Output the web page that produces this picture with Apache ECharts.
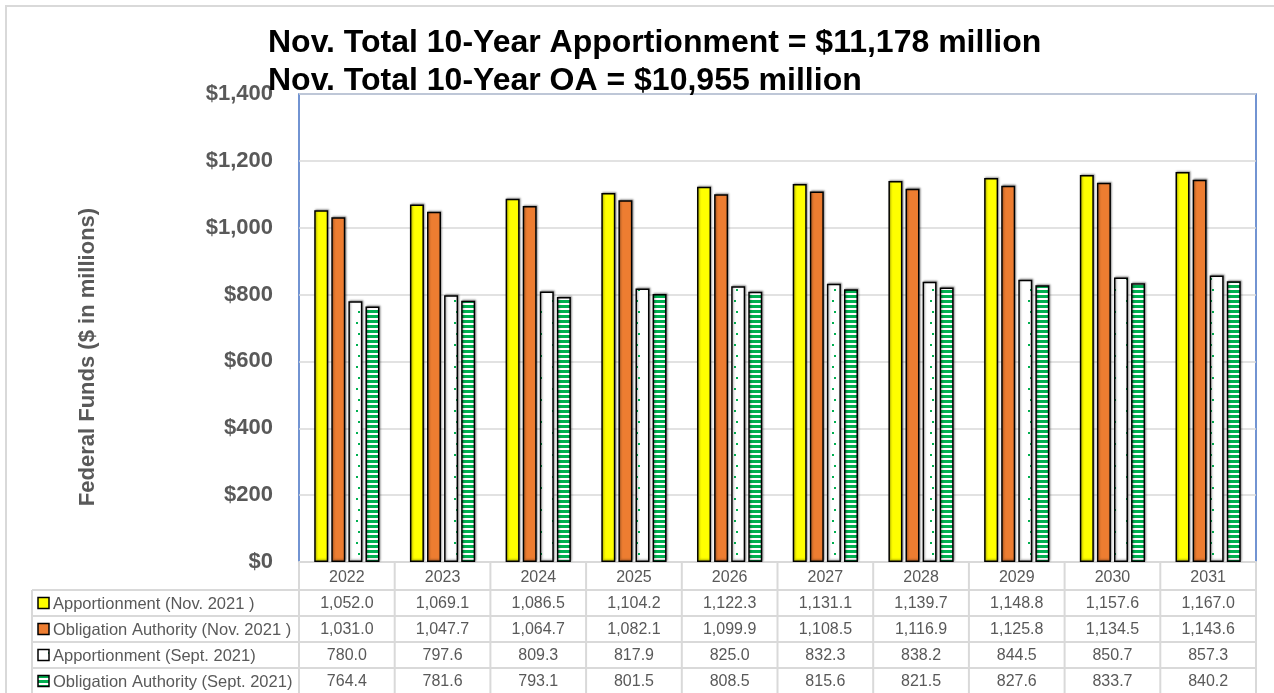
<!DOCTYPE html>
<html>
<head>
<meta charset="utf-8">
<script src="https://cdn.jsdelivr.net/npm/echarts@6/dist/echarts.min.js"></script>
<style>
  html, body { margin: 0; padding: 0; background: #fff; }
  #chart_box { width: 1274px; height: 693px; }
</style>
</head>
<body>
<div id="chart_box"></div>
<script>
// data
var years = ['2022', '2023', '2024', '2025', '2026', '2027', '2028', '2029', '2030', '2031'];
var seriesNames = [
    'Apportionment (Nov. 2021 )',
    'Obligation Authority (Nov. 2021 )',
    'Apportionment (Sept. 2021)',
    'Obligation Authority (Sept. 2021)'
];
var apportNov = [1052.0, 1069.1, 1086.5, 1104.2, 1122.3, 1131.1, 1139.7, 1148.8, 1157.6, 1167.0];
var oaNov = [1031.0, 1047.7, 1064.7, 1082.1, 1099.9, 1108.5, 1116.9, 1125.8, 1134.5, 1143.6];
var apportSept = [780.0, 797.6, 809.3, 817.9, 825.0, 832.3, 838.2, 844.5, 850.7, 857.3];
var oaSept = [764.4, 781.6, 793.1, 801.5, 808.5, 815.6, 821.5, 827.6, 833.7, 840.2];
var titleLines = [
    'Nov. Total 10-Year Apportionment = $11,178 million',
    'Nov. Total 10-Year OA = $10,955 million'
];
var yName = 'Federal Funds ($ in millions)';

var GREEN = '#00B050';
var GRAY_TXT = '#595959';
var LINE = '#d9d9d9';
var FONT = 'Liberation Sans';

// fill patterns (dots / horizontal stripes)
function dotPattern() {
    var c = document.createElement('canvas');
    c.width = 14; c.height = 22;
    var ctx = c.getContext('2d');
    ctx.fillStyle = '#fff';
    ctx.fillRect(0, 0, 14, 22);
    ctx.fillStyle = GREEN;
    ctx.fillRect(8, 3, 2, 2);
    ctx.fillRect(6, 14, 2, 2);
    return c;
}
function stripePattern() {
    var c = document.createElement('canvas');
    c.width = 4; c.height = 5;
    var ctx = c.getContext('2d');
    ctx.fillStyle = '#fff';
    ctx.fillRect(0, 0, 4, 5);
    ctx.fillStyle = GREEN;
    ctx.fillRect(0, 0, 4, 3);
    return c;
}
var dots = dotPattern();
var stripes = stripePattern();

var fills = [
    '#FFFF00',
    '#ED7D31',
    { image: dots, repeat: 'repeat' },
    { image: stripes, repeat: 'repeat' }
];
var rows = [apportNov, oaNov, apportSept, oaSept];

var myChart = echarts.init(document.getElementById('chart_box'));

function barSeries(i) {
    return {
        name: seriesNames[i],
        type: 'bar',
        data: rows[i],
        barWidth: 14,
        barGap: '22%',
        itemStyle: {
            color: fills[i],
            borderColor: '#000',
            borderWidth: 1.5,
            shadowColor: 'rgba(0,0,0,0.35)',
            shadowBlur: 2,
            shadowOffsetX: 1,
            shadowOffsetY: -1
        }
    };
}

var option = {
    animation: false,
    title: {
        text: titleLines.join('\n'),
        left: 263,
        top: 19,
        textStyle: {
            fontFamily: FONT,
            fontSize: 32,
            fontWeight: 'bold',
            color: '#000',
            lineHeight: 38
        }
    },
    grid: {
        left: 299,
        right: 18,
        top: 94,
        bottom: 131,
        show: true,
        borderColor: '#4472C4',
        borderWidth: 1.5
    },
    xAxis: {
        type: 'category',
        data: years,
        axisLine: { lineStyle: { color: LINE, width: 2 } },
        axisTick: { show: false },
        axisLabel: {
            color: GRAY_TXT,
            fontFamily: FONT,
            fontSize: 16,
            margin: 8
        }
    },
    yAxis: {
        type: 'value',
        min: 0,
        max: 1400,
        interval: 200,
        axisLine: { show: false },
        axisTick: { show: false },
        splitLine: { lineStyle: { color: LINE, width: 1.5 } },
        axisLabel: {
            color: GRAY_TXT,
            fontFamily: FONT,
            fontSize: 22,
            fontWeight: 'bold',
            margin: 26,
            formatter: function (v) { return '$' + v.toLocaleString('en-US'); }
        }
    },
    series: [barSeries(0), barSeries(1), barSeries(2), barSeries(3)]
};
myChart.setOption(option);

// data table under the plot, aligned with the category axis
function buildTable() {
    var g = [];
    var tableLeft = 32;
    var headTop = 562;
    var rowTops = [590, 616, 642, 668, 694];
    var edges = [];
    for (var i = 0; i < years.length; i++) {
        var c = myChart.convertToPixel({ xAxisIndex: 0 }, years[i]);
        var next = i < years.length - 1 ? myChart.convertToPixel({ xAxisIndex: 0 }, years[i + 1]) : null;
        var half = next !== null ? (next - c) / 2 : (c - edges[edges.length - 1]);
        if (i === 0) edges.push(c - half);
        edges.push(c + half);
    }
    var tableRight = edges[edges.length - 1];

    // horizontal lines
    rowTops.forEach(function (y) {
        g.push({ type: 'line', shape: { x1: tableLeft, y1: y, x2: tableRight, y2: y },
            style: { stroke: LINE, lineWidth: 2 }, silent: true });
    });
    // vertical lines
    g.push({ type: 'line', shape: { x1: tableLeft, y1: rowTops[0], x2: tableLeft, y2: 694 },
        style: { stroke: LINE, lineWidth: 2 }, silent: true });
    edges.forEach(function (x) {
        g.push({ type: 'line', shape: { x1: x, y1: headTop, x2: x, y2: 694 },
            style: { stroke: LINE, lineWidth: 2 }, silent: true });
    });

    for (var r = 0; r < rows.length; r++) {
        var yMid = (rowTops[r] + rowTops[r + 1]) / 2;
        // legend key
        g.push({ type: 'rect', shape: { x: 38, y: yMid - 5.5, width: 11, height: 11 },
            style: { fill: fills[r], stroke: '#000', lineWidth: 1.5 }, silent: true });
        g.push({ type: 'text', x: 53, y: yMid + 1,
            style: { text: seriesNames[r], fill: GRAY_TXT, font: '16.5px "' + FONT + '"',
                verticalAlign: 'middle' }, silent: true });
        for (var k = 0; k < years.length; k++) {
            var cx = (edges[k] + edges[k + 1]) / 2;
            g.push({ type: 'text', x: cx, y: yMid + 1,
                style: { text: rows[r][k].toLocaleString('en-US', { minimumFractionDigits: 1, maximumFractionDigits: 1 }),
                    fill: GRAY_TXT, font: '16px "' + FONT + '"',
                    align: 'center', verticalAlign: 'middle' },
                silent: true });
        }
    }
    // y axis title
    g.push({ type: 'text', x: 88, y: 357, rotation: Math.PI / 2,
        style: { text: yName, fill: GRAY_TXT, font: 'bold 22px "' + FONT + '"',
            align: 'center', verticalAlign: 'middle' }, silent: true });
    // light outer frame of the picture
    g.push({ type: 'rect', shape: { x: 6, y: 6, width: 1300, height: 720 },
        style: { fill: 'none', stroke: LINE, lineWidth: 2 }, silent: true, z: -1 });
    return g;
}
myChart.setOption({ graphic: buildTable() });
</script>
</body>
</html>
